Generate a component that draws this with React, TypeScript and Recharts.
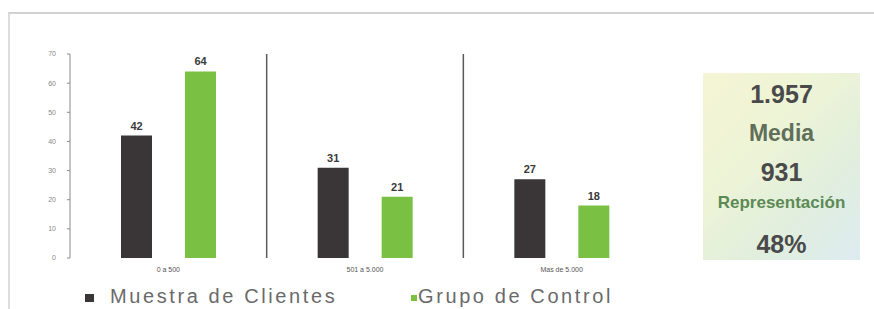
import { BarChart, Bar, XAxis, YAxis, CartesianGrid, LabelList, Legend } from 'recharts';

// tramos de gasto
const categories = ['0 a 500', '501 a 5.000', 'Mas de 5.000'];
const muestraClientes = [42, 31, 27];
const grupoControl = [64, 21, 18];
const yTicks = [0, 10, 20, 30, 40, 50, 60, 70];

// recuadro resumen
const summaryLines = [
  { text: '1.957', kind: 'value' },
  { text: 'Media', kind: 'label' },
  { text: '931', kind: 'value' },
  { text: 'Representación', kind: 'small' },
  { text: '48%', kind: 'value' },
];
const summaryTops = [6, 45, 84, 115, 156];

const SERIES = [
  { key: 'muestra', name: 'Muestra de Clientes', color: '#3a3637' },
  { key: 'control', name: 'Grupo de Control', color: '#7ac143' },
];

const data = categories.map((name, i) => ({
  name,
  muestra: muestraClientes[i],
  control: grupoControl[i],
}));

const legendText = { color: '#6a6a6a', fontSize: 20, letterSpacing: 2.6, lineHeight: '23px', whiteSpace: 'nowrap' as const };

function LegendContent() {
  return (
    <div style={{ position: 'relative', width: 665, height: 31, fontFamily: 'Liberation Sans, Arial, sans-serif' }}>
      <span style={{ position: 'absolute', left: 85, top: 16, width: 9, height: 8, background: SERIES[0].color }} />
      <span style={{ position: 'absolute', left: 110, top: 7, ...legendText }}>{SERIES[0].name}</span>
      <span style={{ position: 'absolute', left: 411, top: 17, width: 6, height: 6, background: SERIES[1].color }} />
      <span style={{ position: 'absolute', left: 418, top: 7, ...legendText }}>{SERIES[1].name}</span>
    </div>
  );
}

export default function App() {
  return (
    <div style={{ position: 'absolute', left: 0, top: 0, width: 874, height: 309, background: '#fff', overflow: 'hidden', fontFamily: 'Liberation Sans, Arial, sans-serif' }}>
      {/* marco */}
      <div style={{ position: 'absolute', left: 8, top: 12, width: 880, height: 300, borderTop: '2px solid #d2d2d2', borderLeft: '2px solid #dcdcdc' }} />

      <div style={{ position: 'absolute', left: 0, top: 0 }}>
        <BarChart
          width={665}
          height={309}
          data={data}
          margin={{ top: 54, right: 5, left: 0, bottom: 0 }}
          barSize={31}
          barGap={33}
        >
          <CartesianGrid
            horizontal={false}
            stroke="#5a5a5a"
            strokeWidth={1.5}
            verticalCoordinatesGenerator={({ offset }: any) => [
              offset.left + offset.width / 3,
              offset.left + (2 * offset.width) / 3,
            ]}
          />
          <XAxis
            dataKey="name"
            axisLine={false}
            tickLine={false}
            tickSize={0}
            height={20}
            tick={{ fontSize: 7, fill: '#555' }}
            tickMargin={9}
          />
          <YAxis
            width={70}
            domain={[0, 70]}
            ticks={yTicks}
            interval={0}
            stroke="#8a8a8a"
            tickSize={3}
            tick={{ fontSize: 7, fill: '#888' }}
            tickMargin={11}
          />
          <Legend verticalAlign="bottom" content={<LegendContent />} wrapperStyle={{ left: 0, bottom: 0, width: 665, height: 31 }} />
          {SERIES.map((s) => (
            <Bar key={s.key} dataKey={s.key} name={s.name} fill={s.color} isAnimationActive={false}>
              <LabelList dataKey={s.key} position="top" offset={6} style={{ fontSize: 11, fontWeight: 'bold', fill: '#3a3a3a' }} />
            </Bar>
          ))}
        </BarChart>
      </div>

      {/* recuadro resumen */}
      <div
        style={{
          position: 'absolute',
          left: 703,
          top: 73,
          width: 157,
          height: 187,
          background: 'linear-gradient(135deg, #f4f5d4 0%, #eef4d6 35%, #e2efdc 65%, #dcebf0 100%)',
        }}
      >
        {summaryLines.map((l, i) => (
          <div
            key={i}
            style={{
              position: 'absolute',
              left: 0,
              width: '100%',
              top: summaryTops[i],
              textAlign: 'center',
              fontWeight: 'bold',
              fontSize: l.kind === 'value' ? 25 : l.kind === 'label' ? 23 : 17,
              color: l.kind === 'value' ? '#4a4a4a' : l.kind === 'label' ? '#5f6f5a' : '#5c8a55',
              lineHeight: '30px',
              whiteSpace: 'nowrap',
            }}
          >
            {l.text}
          </div>
        ))}
      </div>
    </div>
  );
}
